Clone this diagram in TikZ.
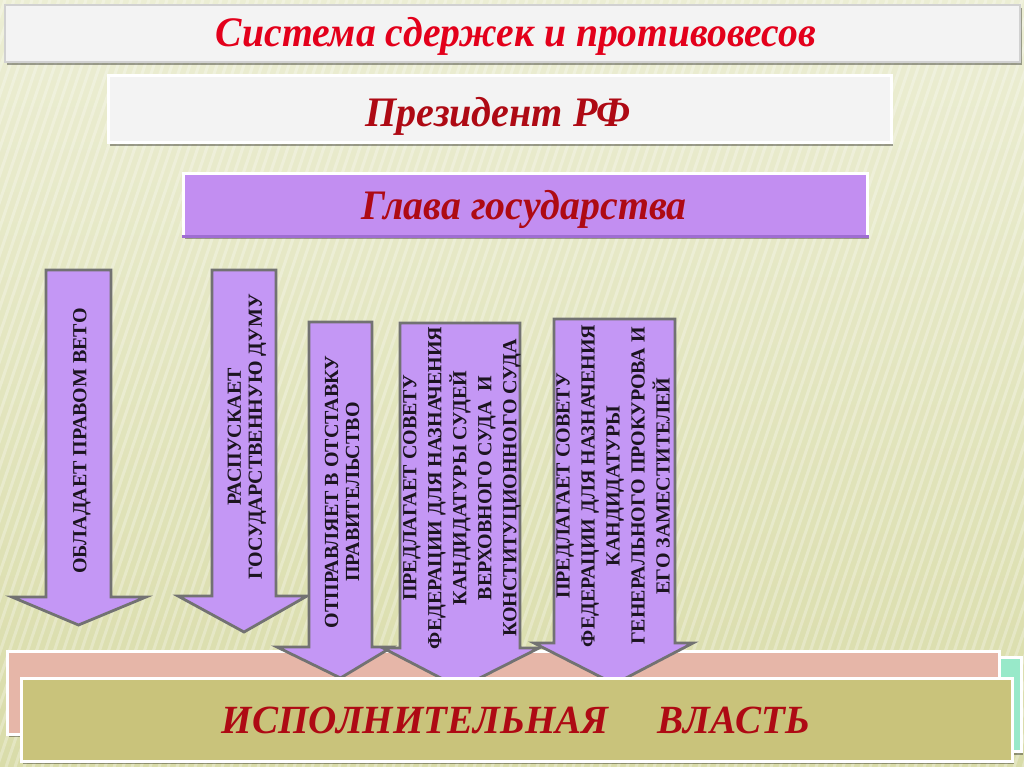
\documentclass[tikz,border=0pt]{standalone}
\usepackage{fontspec}
\setmainfont{Liberation Serif}
\usetikzlibrary{shadows}
\definecolor{bgtop}{HTML}{ECEED4}
\definecolor{bgbot}{HTML}{D9DCA9}
\definecolor{arrowfill}{HTML}{C497F5}
\definecolor{arrowedge}{HTML}{727272}
\definecolor{arrowtxt}{HTML}{1C1420}
\definecolor{titlered}{HTML}{E3001B}
\definecolor{darkred}{HTML}{AE0A14}
\definecolor{whitebox}{HTML}{F3F3F3}
\definecolor{violetbox}{HTML}{C28EF1}
\definecolor{violetdark}{HTML}{9F6DD2}
\definecolor{pinkbox}{HTML}{E6B6A8}
\definecolor{olivebox}{HTML}{C9C37B}
\definecolor{mintbox}{HTML}{98E9C9}
\tikzset{
  panel/.style={rectangle, inner sep=0pt, draw=white, line width=3pt,
    drop shadow={shadow xshift=2pt, shadow yshift=-3pt, fill=black, opacity=.35}},
  arrowbody/.style={fill=arrowfill, draw=arrowedge, line width=2.8pt, line join=miter},
  arrowtext/.style={rotate=90, align=center, inner sep=0pt, text=arrowtxt,
    font=\bfseries\fontsize{20}{21}\selectfont},
  widetext/.style={arrowtext, font=\bfseries\fontsize{20}{25}\selectfont},
  headline/.style={anchor=base, inner sep=0pt, font=\bfseries\itshape\fontsize{42}{42}\selectfont}
}
% #1 xl, #2 xr, #3 ytop, #4 yhead, #5 head xl, #6 head xr, #7 ytip
\newcommand\DownArrowShape[7]{%
  \draw[arrowbody] (#1,#3) -- (#2,#3) -- (#2,#4) -- (#6,#4) -- ({(#1+#2)/2},#7)
    -- (#5,#4) -- (#1,#4) -- cycle;}
\begin{document}
\begin{tikzpicture}[x=1pt,y=-1pt]
\useasboundingbox (0,0) rectangle (1024,767);
\clip (0,0) rectangle (1024,767);
% background
\shade[top color=bgtop, bottom color=bgbot] (0,0) rectangle (1024,767);
\foreach \s in {-300,-291,...,1100} {
  \draw[white, opacity=.28, line width=3pt] (\s,767) -- (\s+260,0);
}
% title
\node[panel, fill=whitebox, draw=black!18, line width=1.5pt,
  minimum width=1015pt, minimum height=57pt] (titlebox) at (512.5,33.5) {};
\node[headline, text=titlered] (title) at (516,47)
  {\resizebox{600pt}{\height}{Система сдержек и противовесов}};
% president
\node[panel, fill=whitebox, minimum width=783pt, minimum height=67pt] (presbox) at (499.5,109.5) {};
\node[headline, text=darkred] (pres) at (498,127)
  {\resizebox{265pt}{\height}{Президент РФ}};
% head of state
\node[panel, fill=violetbox, minimum width=684pt, minimum height=62pt] (headbox) at (525,205) {};
\fill[violetdark] ([shift={(0pt,3pt)}]headbox.south west) rectangle ([shift={(0pt,0pt)}]headbox.south east);
\node[headline, text=darkred] (head) at (524,220)
  {\resizebox{325pt}{\height}{Глава государства}};
% arrows 1 and 2
\DownArrowShape{46}{111}{270}{597}{12}{146}{625}
\node[arrowtext] (a1) at (82,441) {ОБЛАДАЕТ ПРАВОМ ВЕТО};
\DownArrowShape{212}{276}{270}{596}{178}{307}{632}
\node[arrowtext] (a2) at (247,437) {РАСПУСКАЕТ\\ГОСУДАРСТВЕННУЮ ДУМУ};
% bottom boxes
\node[panel, fill=mintbox, minimum width=32pt, minimum height=94pt] (mint) at (1005,704.5) {};
\node[panel, fill=pinkbox, minimum width=992pt, minimum height=83pt] (pink) at (503,692.5) {};
% arrows 3-5
\DownArrowShape{309}{372}{322}{647}{277}{392}{678}
\node[arrowtext] (a3) at (342,492) {ОТПРАВЛЯЕТ В ОТСТАВКУ\\ПРАВИТЕЛЬСТВО};
\DownArrowShape{400}{520}{323}{648}{383}{539}{688}
\node[widetext] (a4) at (462,488) {ПРЕДЛАГАЕТ СОВЕТУ\\ФЕДЕРАЦИИ ДЛЯ НАЗНАЧЕНИЯ\\КАНДИДАТУРЫ СУДЕЙ\\ВЕРХОВНОГО СУДА\ \ И\\КОНСТИТУЦИОННОГО СУДА};
\DownArrowShape{554}{675}{319}{643}{534}{693}{684}
\node[widetext] (a5) at (613,486) {ПРЕДЛАГАЕТ СОВЕТУ\\ФЕДЕРАЦИИ ДЛЯ НАЗНАЧЕНИЯ\\КАНДИДАТУРЫ\\ГЕНЕРАЛЬНОГО ПРОКУРОВА И\\ЕГО ЗАМЕСТИТЕЛЕЙ};
% executive power
\node[panel, fill=olivebox, minimum width=991pt, minimum height=83pt] (olive) at (516.5,719.5) {};
\node[headline, text=darkred, font=\bfseries\itshape\fontsize{40}{40}\selectfont] (exec) at (516,733)
  {\resizebox{588pt}{\height}{ИСПОЛНИТЕЛЬНАЯ\ \ \ \ \ ВЛАСТЬ}};
\end{tikzpicture}
\end{document}
